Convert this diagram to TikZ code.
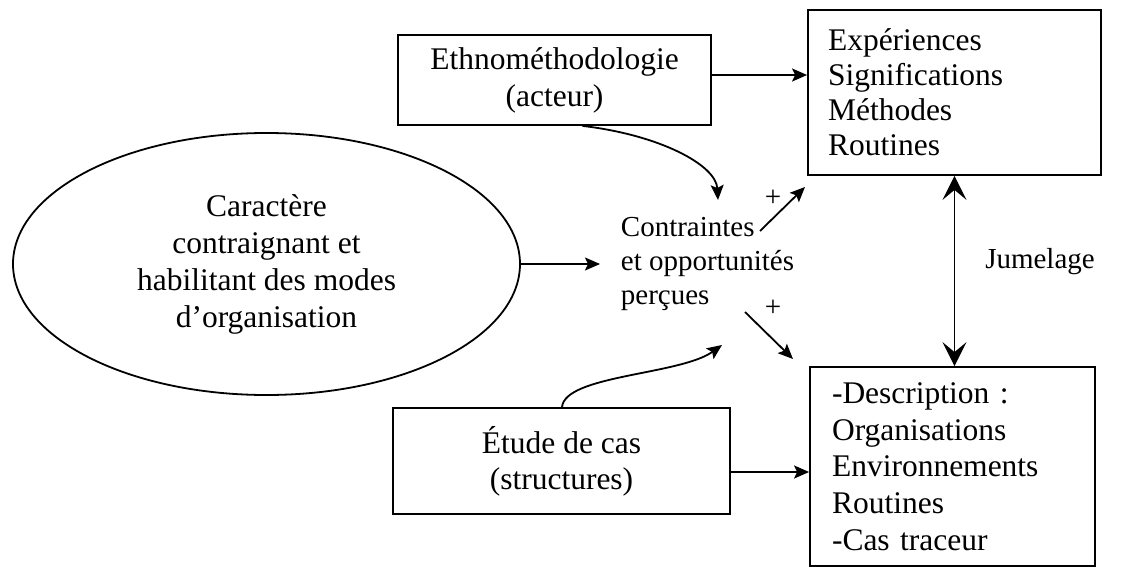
\documentclass[tikz,border=0pt]{standalone}
\usepackage{fontspec}
\setmainfont{Liberation Serif}
\usetikzlibrary{arrows.meta,shapes.geometric}
\begin{document}
\begin{tikzpicture}[x=1pt,y=-1pt,line width=1.8pt,
  box/.style={draw,rectangle,inner sep=0pt,align=center,font=\fontsize{31.5}{37}\selectfont},
  listbox/.style={draw,rectangle,align=left,inner ysep=0pt},
  small/.style={font=\fontsize{29}{34}\selectfont,inner sep=0pt},
  arr/.style={-{Stealth[length=15pt,width=13pt,inset=3pt]}},
  dbl/.style={{Stealth[length=24pt,width=24pt,inset=10pt]}-{Stealth[length=24pt,width=24pt,inset=10pt]}}]
\useasboundingbox (0,0) rectangle (1123,567);

\node[box,minimum width=313pt,minimum height=90pt] (ethno) at (554.5,80) {Ethnométhodologie\\(acteur)};
\node[listbox,text width=253pt,inner xsep=20pt,minimum height=165pt,font=\fontsize{31.5}{35}\selectfont] (exp) at (954.5,92.5)
  {Expériences\\Significations\\Méthodes\\Routines};
\node[draw,ellipse,minimum width=507pt,minimum height=262pt,inner sep=0pt,align=center,font=\fontsize{31.5}{37}\selectfont] (ell) at (266.5,264)
  {Caractère\\contraignant et\\habilitant des modes\\d’organisation};
\node[small,anchor=west,align=left] (contr) at (620,264) {Contraintes\\et opportunités\\perçues};
\node[small] (jum) at (1040,262) {Jumelage};
\node[small] (p1) at (773,198) {+};
\node[small] (p2) at (773,308) {+};
\node[box,minimum width=337pt,minimum height=106pt,font=\fontsize{31.5}{36}\selectfont] (etude) at (561.5,461) {Étude de cas\\(structures)};
\node[listbox,text width=241pt,inner xsep=22pt,minimum height=199pt,font=\fontsize{31.5}{36.7}\selectfont] (desc) at (952.5,466.5)
  {-Description :\\Organisations\\Environnements\\Routines\\-Cas traceur};

\coordinate (c1) at (718,200);
\coordinate (c2) at (722,345);
\coordinate (a1s) at (760,231);
\coordinate (a1e) at (805,187);
\coordinate (a2s) at (745,312);
\coordinate (a2e) at (793,359);

\draw[arr] ([yshift=5pt]ethno.east) coordinate (e0) -- (e0 -| exp.west);
\draw[arr] (ell.east) -- ([xshift=-20pt]contr.west);
\draw[arr] ([xshift=28pt]ethno.south) .. controls (660,135) and (716,165) .. (c1);
\draw[arr] ([xshift=0.5pt]etude.north) .. controls (565,375) and (680,375) .. (c2);
\draw[arr] (a1s) -- (a1e);
\draw[arr] (a2s) -- (a2e);
\draw[arr] ([yshift=-11pt]etude.east) coordinate (e1) -- (e1 -| desc.west);
\draw[dbl] (exp.south) -- (exp.south |- desc.north);
\end{tikzpicture}
\end{document}
